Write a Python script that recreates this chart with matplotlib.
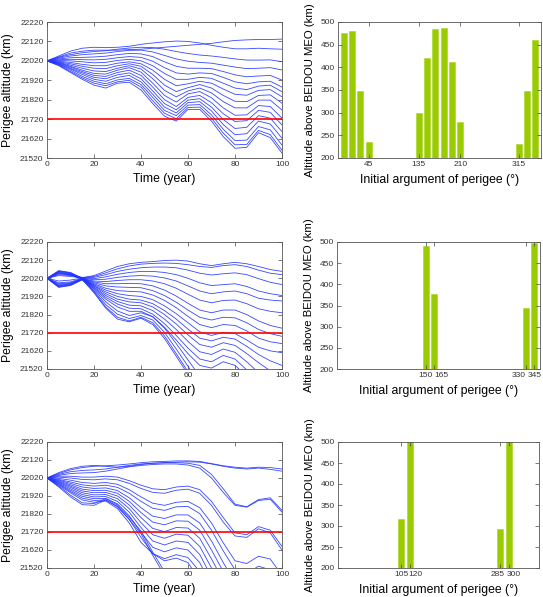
import matplotlib
matplotlib.use('Agg')
import matplotlib.pyplot as plt
from matplotlib.transforms import ScaledTranslation

plt.rcParams['font.family'] = ['Liberation Sans', 'DejaVu Sans']

# ---------------- data ----------------
years = list(range(0, 101, 5))
threshold_km = 21720

# Row 1: perigee altitude curves (km) sampled every 5 years
row1_curves = [
    [22020,22040,22060,22070,22075,22075,22075,22078,22080,22085,22090,22095,22100,22105,22110,22118,22125,22128,22130,22130,22132],
    [22020,22045,22070,22085,22090,22088,22090,22095,22105,22112,22118,22122,22120,22112,22100,22090,22082,22082,22085,22082,22080],
    [22020,22038,22052,22062,22068,22072,22080,22086,22090,22088,22080,22068,22058,22050,22045,22038,22030,22024,22024,22025,22016],
    [22020,22034,22045,22052,22056,22060,22068,22074,22075,22066,22048,22030,22018,22012,22008,21998,21988,21980,21982,21985,21973],
    [22020,22030,22036,22038,22040,22044,22052,22058,22056,22042,22015,21992,21982,21982,21980,21965,21948,21938,21942,21945,21921],
    [22020,22026,22028,22026,22025,22028,22036,22042,22038,22018,21985,21958,21952,21958,21955,21935,21912,21902,21912,21915,21885],
    [22020,22022,22020,22015,22010,22012,22022,22028,22020,21995,21955,21925,21925,21935,21930,21905,21880,21872,21890,21895,21861],
    [22020,22018,22012,22002,21995,21995,22008,22015,22005,21972,21925,21892,21902,21915,21905,21875,21848,21843,21868,21872,21835],
    [22020,22015,22005,21992,21982,21980,21995,22005,21992,21950,21895,21862,21882,21898,21880,21842,21812,21810,21842,21845,21802],
    [22020,22012,21998,21982,21968,21965,21982,21995,21978,21928,21868,21835,21865,21880,21855,21810,21778,21778,21818,21818,21767],
    [22020,22010,21992,21972,21955,21952,21972,21985,21962,21905,21842,21808,21850,21862,21830,21778,21740,21742,21790,21785,21725],
    [22020,22008,21988,21965,21945,21940,21960,21972,21945,21885,21820,21785,21832,21842,21805,21748,21708,21712,21765,21755,21690],
    [22020,22005,21982,21958,21935,21928,21948,21958,21928,21865,21800,21768,21818,21825,21782,21718,21672,21678,21738,21725,21656],
    [22020,22003,21978,21950,21925,21915,21935,21945,21912,21848,21782,21752,21805,21810,21762,21692,21640,21645,21710,21695,21622],
    [22020,22000,21972,21940,21915,21902,21922,21930,21898,21832,21765,21738,21792,21795,21742,21668,21610,21612,21682,21665,21586],
    [22020,21998,21965,21932,21905,21892,21912,21920,21885,21815,21750,21722,21780,21782,21725,21648,21588,21590,21662,21640,21560],
    [22020,21995,21960,21925,21895,21880,21905,21910,21870,21800,21735,21710,21770,21770,21710,21630,21570,21575,21650,21625,21545],
]

# Row 2
row2_curves = [
    [22020,22035,22030,22022,22035,22060,22085,22100,22108,22112,22118,22120,22115,22100,22090,22100,22108,22100,22085,22068,22058],
    [22020,22045,22040,22025,22030,22050,22072,22088,22098,22102,22104,22102,22095,22085,22080,22090,22095,22085,22065,22048,22040],
    [22020,22005,22010,22022,22025,22040,22058,22070,22078,22082,22082,22078,22065,22048,22038,22045,22050,22040,22018,21998,21985],
    [22020,22040,22035,22020,22018,22028,22042,22052,22058,22058,22052,22040,22020,21995,21980,21985,21990,21975,21950,21935,21925],
    [22020,21995,22000,22020,22012,22015,22025,22032,22035,22032,22022,22005,21978,21950,21935,21945,21950,21935,21910,21900,21895],
    [22020,22048,22038,22018,22005,22002,22008,22012,22012,22005,21990,21965,21932,21900,21885,21898,21900,21880,21852,21838,21830],
    [22020,21990,21995,22018,22000,21990,21990,21992,21990,21978,21955,21922,21882,21845,21830,21845,21845,21820,21785,21760,21745],
    [22020,22050,22040,22018,21995,21978,21972,21970,21968,21952,21925,21888,21845,21805,21790,21805,21802,21775,21738,21715,21700],
    [22020,21985,21992,22016,21990,21965,21952,21948,21945,21928,21898,21858,21810,21765,21748,21765,21760,21730,21690,21670,21660],
    [22020,22052,22042,22018,21985,21955,21935,21925,21920,21902,21868,21825,21775,21725,21705,21722,21715,21680,21640,21620,21610],
    [22020,21980,21990,22015,21980,21945,21920,21905,21900,21880,21842,21795,21740,21690,21675,21695,21685,21645,21600,21565,21540],
    [22020,22055,22045,22018,21978,21935,21905,21890,21885,21862,21820,21768,21708,21655,21640,21665,21650,21605,21555,21510,21470],
    [22020,21978,21988,22015,21972,21925,21892,21872,21868,21842,21795,21738,21672,21615,21600,21630,21612,21560,21500,21450,21400],
    [22020,22058,22048,22020,21968,21915,21878,21855,21852,21822,21770,21705,21635,21575,21560,21595,21575,21515,21450,21400,21350],
    [22020,21975,21985,22014,21962,21905,21862,21838,21838,21808,21750,21680,21605,21540,21525,21560,21540,21480,21410,21350,21300],
    [22020,22060,22050,22020,21958,21890,21840,21815,21830,21808,21745,21660,21570,21480,21420,21400,21380,21360,21340,21320,21300],
    [22020,21972,21982,22012,21950,21875,21822,21798,21815,21790,21722,21630,21535,21440,21380,21360,21340,21320,21300,21280,21260],
    [22020,22062,22052,22020,21945,21862,21805,21785,21805,21775,21702,21605,21505,21410,21350,21330,21310,21290,21270,21250,21230],
    [22020,21970,21980,22012,21940,21855,21795,21780,21800,21765,21688,21590,21490,21395,21330,21310,21290,21270,21250,21230,21210],
]

# Row 3
row3_curves = [
    [22020,22045,22065,22078,22085,22088,22092,22098,22105,22110,22112,22115,22115,22112,22100,22088,22080,22075,22080,22078,22070],
    [22020,22050,22072,22085,22090,22085,22080,22085,22095,22102,22105,22108,22110,22108,22098,22085,22075,22070,22075,22068,22058],
    [22020,22040,22055,22062,22065,22070,22080,22090,22098,22102,22105,22105,22102,22090,22040,21960,21875,21860,21900,21910,21840],
    [22020,22035,22045,22048,22050,22058,22070,22082,22090,22095,22098,22098,22092,22075,22020,21940,21868,21858,21895,21902,21830],
    [22020,22030,22030,22025,22025,22030,22025,22005,21980,21960,21955,21970,21975,21955,21890,21800,21715,21705,21750,21730,21640],
    [22020,22025,22020,22012,22010,22015,22010,21990,21962,21940,21935,21952,21958,21935,21868,21775,21698,21690,21738,21715,21620],
    [22020,22018,22008,21995,21990,21995,21985,21955,21915,21880,21868,21885,21890,21855,21770,21660,21560,21545,21585,21570,21480],
    [22020,22012,21998,21982,21975,21980,21968,21935,21890,21852,21840,21860,21862,21822,21730,21615,21510,21490,21530,21510,21420],
    [22020,22008,21990,21970,21962,21965,21950,21910,21855,21808,21795,21815,21815,21770,21670,21550,21440,21380,21350,21330,21300],
    [22020,22004,21982,21958,21950,21952,21935,21890,21828,21775,21760,21782,21780,21730,21620,21500,21400,21350,21320,21300,21280],
    [22020,22000,21975,21948,21938,21940,21920,21870,21800,21740,21722,21745,21742,21685,21570,21450,21360,21320,21300,21280,21260],
    [22020,21996,21968,21938,21926,21928,21905,21850,21772,21705,21685,21708,21702,21640,21520,21400,21330,21300,21280,21260,21240],
    [22020,21992,21960,21928,21915,21917,21890,21830,21745,21670,21648,21670,21662,21595,21470,21360,21300,21280,21260,21240,21220],
    [22020,21988,21952,21918,21905,21907,21876,21810,21718,21635,21610,21632,21620,21550,21420,21330,21290,21270,21250,21230,21210],
    [22020,21984,21945,21908,21895,21898,21862,21790,21690,21600,21572,21594,21578,21500,21370,21300,21280,21260,21240,21220,21200],
    [22020,21980,21938,21898,21885,21892,21850,21770,21662,21600,21560,21575,21550,21450,21320,21280,21260,21240,21220,21200,21180],
    [22020,21975,21925,21882,21878,21905,21870,21802,21725,21608,21500,21420,21380,21350,21320,21300,21280,21260,21240,21220,21200],
    [22020,21970,21915,21872,21868,21898,21860,21790,21710,21590,21480,21400,21360,21330,21300,21280,21260,21240,21220,21200,21180],
]

# Bar charts: initial argument of perigee (deg) -> altitude above BEIDOU MEO (km)
row1_perigee_arg = [0, 15, 30, 45, 135, 150, 165, 180, 195, 210, 315, 330, 345]
row1_altitude = [475, 480, 347, 236, 299, 420, 484, 487, 411, 279, 231, 347, 461]
row1_ticks = [45, 135, 210, 315]

row2_perigee_arg = [150, 165, 330, 345]
row2_altitude = [491, 377, 344, 497]
row2_ticks = [150, 165, 330, 345]

row3_perigee_arg = [105, 120, 285, 300]
row3_altitude = [317, 520, 294, 520]
row3_ticks = [105, 120, 285, 300]

# ---------------- figure ----------------
W, H = 543, 597
fig = plt.figure(figsize=(W / 100, H / 100), dpi=100)

def box(x0, y0, x1, y1):
    return [x0 / W, 1 - y1 / H, (x1 - x0) / W, (y1 - y0) / H]

left_boxes = [box(47, 22, 282, 158), box(47, 242, 282, 369), box(47, 442, 282, 568)]
right_boxes = [box(338, 22, 541, 158), box(337, 242, 540, 369), box(338, 442, 539, 568)]
# horizontal nudges (px) of crowded bar tick labels, as the reference shows them
label_nudges = [[0, 0, 0, 0], [-1, 7, -7, 0], [0, 6, -3, 5]]

curve_sets = [row1_curves, row2_curves, row3_curves]
bar_sets = [(row1_perigee_arg, row1_altitude, row1_ticks),
            (row2_perigee_arg, row2_altitude, row2_ticks),
            (row3_perigee_arg, row3_altitude, row3_ticks)]

LABEL_FS = 8.8
BAR_YLABEL_FS = 8.2

def style(ax):
    ax.tick_params(direction='in', top=True, right=True, length=3, width=0.5,
                   labelsize=6, pad=2.5, colors='#444444', labelcolor='#333333')
    for s in ax.spines.values():
        s.set_linewidth(0.6)
        s.set_color('#555555')

for lb, rb, curves, (args, alts, ticks), nudges in zip(left_boxes, right_boxes, curve_sets, bar_sets, label_nudges):
    ax = fig.add_axes(lb)
    for c in curves:
        ax.plot(years, c, color='#2233ff', lw=0.6, alpha=0.9)
    ax.axhline(threshold_km, color='#ff0000', lw=1.2)
    ax.set_xlim(0, 100)
    ax.set_ylim(21520, 22220)
    ax.set_xticks(range(0, 101, 20))
    ax.set_yticks(range(21520, 22221, 100))
    style(ax)
    ax.set_xlabel('Time (year)', fontsize=LABEL_FS, labelpad=3)
    ax.set_ylabel('Perigee altitude (km)', fontsize=LABEL_FS, labelpad=4)

    bx = fig.add_axes(rb)
    bx.bar(args, alts, width=11, color='#99cc00', edgecolor='#a8d61a', lw=0.4)
    bx.set_xlim(-10, 355)
    bx.set_ylim(200, 500)
    bx.set_xticks(ticks)
    bx.set_yticks(range(200, 501, 50))
    style(bx)
    for lab, dx in zip(bx.get_xticklabels(), nudges):
        lab.set_transform(lab.get_transform() + ScaledTranslation(dx / 100, 0, fig.dpi_scale_trans))
    bx.set_xlabel('Initial argument of perigee (\u00b0)', fontsize=LABEL_FS, labelpad=4)
    bx.set_ylabel('Altitude above BEIDOU MEO (km)', fontsize=BAR_YLABEL_FS, labelpad=4)

fig.savefig('out.png', dpi=100)
